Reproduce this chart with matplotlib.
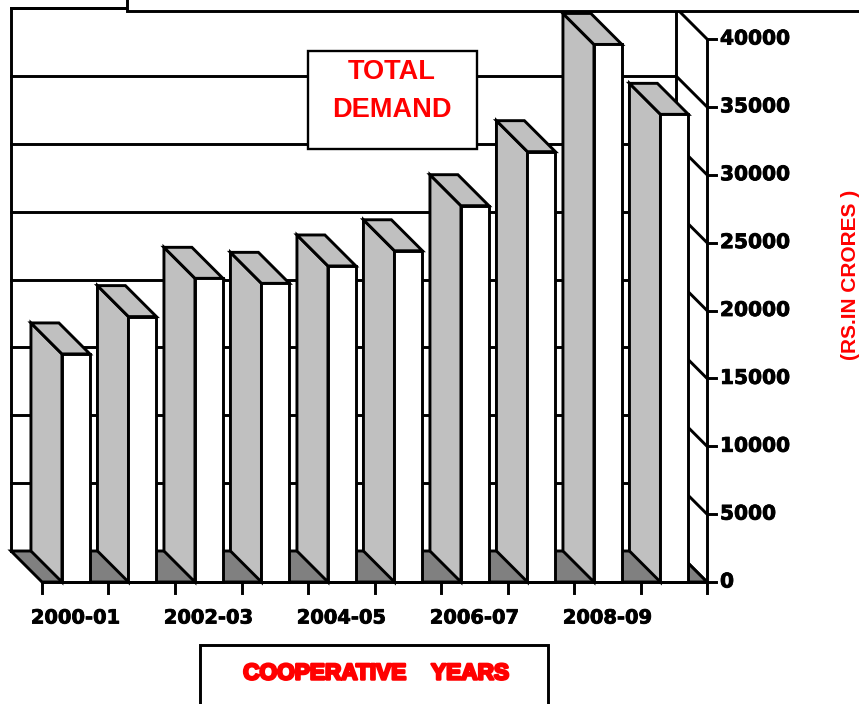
import numpy as np
import matplotlib.pyplot as plt
from matplotlib.patches import Polygon, Rectangle
import matplotlib.patheffects as pe

years = ["2000-01", "2001-02", "2002-03", "2003-04", "2004-05",
         "2005-06", "2006-07", "2007-08", "2008-09", "2009-10"]
demand = [16800, 19550, 22370, 22000, 23280, 24400, 27720, 31700, 39600, 34450]
yticks = list(range(0, 40001, 5000))

W, H = 859, 704
fig = plt.figure(figsize=(W / 100, H / 100), dpi=100)
ax = fig.add_axes([0, 0, 1, 1])
ax.set_axis_off()

# pixel layout of the plot: slot 66.5 px, zero at y=582, 13.575 px per 1000
slot, x0px, y0px, ppk = 66.5, 42, 582, 13.575
ax.set_xlim((0 - x0px) / slot - 0.5, (W - x0px) / slot - 0.5)
ax.set_ylim((y0px - H) * 1000 / ppk, y0px * 1000 / ppk)

dx = -31 / slot          # depth offset (to the back, up-left)
dy = 31 * 1000 / ppk
lw = 2.1
n = len(years)
left, right = -0.5, n - 0.5
top = yticks[-1]

# back wall
ax.add_patch(Polygon([(left + dx, dy), (right + dx, dy), (right + dx, top + dy),
                      (left + dx, top + dy)], closed=True, facecolor="white",
                     edgecolor="black", lw=lw, zorder=1))
for v in yticks:
    ax.plot([left + dx, right + dx], [v + dy, v + dy], color="black", lw=lw, zorder=2)
    ax.plot([right + dx, right], [v + dy, v], color="black", lw=lw, zorder=2)
ax.plot([right, right], [0, top], color="black", lw=lw, zorder=2)

# floor
ax.add_patch(Polygon([(left + dx, dy), (right + dx, dy), (right, 0), (left, 0)],
                     closed=True, facecolor="#808080", edgecolor="black", lw=lw, zorder=3))

# bars
bl, bw = -0.2, 0.42
idx = np.arange(n)
for i, v in zip(idx, demand):
    xl = i + bl
    ax.add_patch(Polygon([(xl + dx, dy), (xl, 0), (xl, v), (xl + dx, v + dy)],
                         closed=True, facecolor="#C0C0C0", edgecolor="black",
                         lw=lw, joinstyle="miter", zorder=4))
    ax.add_patch(Polygon([(xl + dx, v + dy), (xl + bw + dx, v + dy), (xl + bw, v), (xl, v)],
                         closed=True, facecolor="#C0C0C0", edgecolor="black",
                         lw=lw, joinstyle="miter", zorder=4))
ax.bar(idx + bl, demand, width=bw, align="edge", color="white",
       edgecolor="black", linewidth=lw, zorder=5)

# axes lines and ticks
ax.plot([left, right], [0, 0], color="black", lw=lw, zorder=6)
bold = [pe.withStroke(linewidth=0.6, foreground="black")]
tick_dx = 9 / slot
for v in yticks:
    ax.plot([right, right + tick_dx], [v, v], color="black", lw=lw, zorder=6)
    ax.text(right + 13 / slot, v, str(v), ha="left", va="center",
            fontsize=14.5, fontweight="bold", family="DejaVu Sans", path_effects=bold)
tick_len = 11 * 1000 / ppk
for k in range(n + 1):
    ax.plot([left + k, left + k], [0, -tick_len], color="black", lw=lw, zorder=6)
for i in range(0, n, 2):
    ax.text(i, -36 * 1000 / ppk, years[i], ha="center", va="center",
            fontsize=14, fontweight="bold", family="DejaVu Sans", path_effects=bold)

# boxes and titles (figure pixel coords)
def fx(x):
    return x / W

def fy(y):
    return 1 - y / H

tf = fig.transFigure
fig.patches.append(Rectangle((fx(127), fy(11)), 1, 0.1, transform=tf,
                             facecolor="white", edgecolor="black", lw=lw, zorder=10))
fig.patches.append(Rectangle((fx(308), fy(149)), fx(477) - fx(308), fy(51) - fy(149),
                             transform=tf, facecolor="white", edgecolor="black",
                             lw=1.7, zorder=10))
fig.text(fx(392), fy(72), "TOTAL", ha="center", va="center", color="red",
         fontsize=19.5, fontweight="bold", family="Liberation Sans", zorder=11)
fig.text(fx(392), fy(110), "DEMAND", ha="center", va="center", color="red",
         fontsize=19.5, fontweight="bold", family="Liberation Sans", zorder=11)

fig.patches.append(Rectangle((fx(200), fy(720)), fx(548) - fx(200), fy(645) - fy(720),
                             transform=tf, facecolor="white", edgecolor="black",
                             lw=lw, zorder=10))
fig.text(fx(376), fy(673), "COOPERATIVE    YEARS", ha="center", va="center",
         color="red", fontsize=16.3, fontweight="bold", family="Liberation Sans",
         zorder=11, path_effects=[pe.withStroke(linewidth=1.8, foreground="red")])

fig.text(fx(850), fy(275), "(RS.IN CRORES )", ha="center", va="center",
         rotation=90, color="red", fontsize=15, fontweight="bold",
         family="Liberation Sans")

plt.savefig("out.png", dpi=100)
